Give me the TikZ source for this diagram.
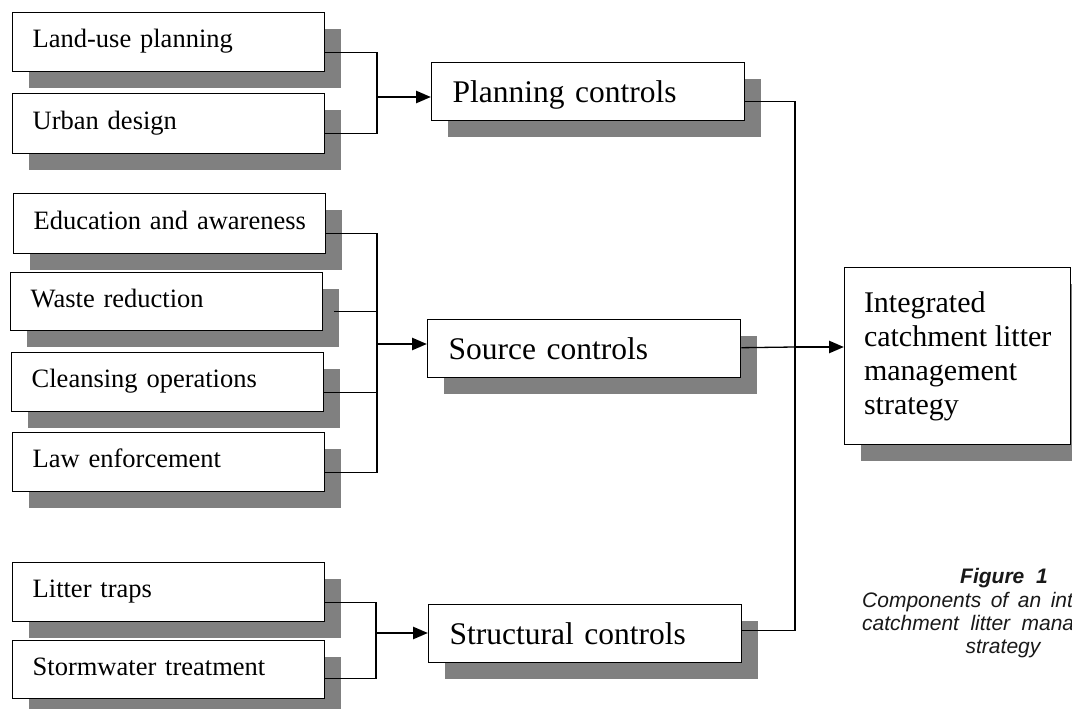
\documentclass[tikz,border=0pt]{standalone}
\usepackage{fontspec}
\setmainfont{Liberation Serif}
\newfontfamily\capfont{Liberation Sans}
\usetikzlibrary{arrows.meta,shadows}
\definecolor{shgray}{RGB}{128,128,128}
\begin{document}
\begin{tikzpicture}[x=1pt,y=-1pt,
  box/.style={draw=black, line width=1.4pt, fill=white, anchor=north west,
    inner ysep=0pt, align=left,
    drop shadow={shadow xshift=16pt, shadow yshift=-16pt, fill=shgray, opacity=1}},
  smallbox/.style={box, inner xsep=20pt, text width=272pt, minimum width=312pt,
    font=\fontsize{26.5}{30}\selectfont, text height=17pt, text depth=6pt},
  mainbox/.style={box, inner xsep=21pt, text width=271pt, minimum width=313pt,
    font=\fontsize{31.5}{36}\selectfont, text height=23pt, text depth=2pt},
  bigbox/.style={box, inner xsep=0pt, minimum width=226pt, minimum height=177pt,
    font=\fontsize{30}{34}\selectfont},
  conn/.style={line width=1.3pt},
  arr/.style={line width=2.6pt, -{Triangle[length=15pt,width=12pt]}},
  capt/.style={inner sep=0pt, text=black!90, font=\capfont\itshape\fontsize{21}{23}\selectfont}
]
\useasboundingbox (0,0) rectangle (1072,709);
\fill[white] (0,0) rectangle (1072,709);

% planning group
\node[smallbox, minimum height=59pt] (land) at (12,12) {Land-use planning};
\node[smallbox, minimum height=60pt] (urban) at (12,93) {Urban design};
\node[mainbox, minimum height=58pt] (plan) at (431,62) {Planning controls};

% source group
\node[smallbox, minimum height=60pt] (edu) at (13,193) {\mbox{Education and awareness}};
\node[smallbox, minimum height=58pt] (waste) at (10,272) {Waste reduction};
\node[smallbox, minimum height=59pt] (clean) at (11,352) {Cleansing operations};
\node[smallbox, minimum height=59pt] (law) at (12,432) {Law enforcement};
\node[mainbox, minimum height=58pt] (src) at (427,319) {Source controls};

% structural group
\node[smallbox, minimum height=59pt] (litter) at (12,562) {Litter traps};
\node[smallbox, minimum height=58pt] (storm) at (12,640) {Stormwater treatment};
\node[mainbox, minimum height=58pt] (struct) at (428,604) {Structural controls};

% integrated
\node[bigbox] (integ) at (844,267) {Integrated\\catchment litter\\management\\strategy};

% junctions
\coordinate (jp) at (377,97);
\coordinate (js) at (377,344);
\coordinate (jt) at (376,633);
\coordinate (ji) at (795,347);

% planning connectors
\draw[conn] ([yshift=-10pt]land.east) -| (jp) |- ([yshift=-10pt]urban.east);
\draw[arr] (jp) -- (plan.west |- jp);

% source connectors
\draw[conn] ([yshift=-10pt]edu.east) -| (js) |- ([yshift=-10pt]law.east);
\draw[conn] ([xshift=11pt,yshift=-10pt]waste.east) coordinate (w1) -- (w1 -| js);
\draw[conn] ([yshift=-10pt]clean.east) coordinate (c1) -- (c1 -| js);
\draw[arr] (js) -- (src.west |- js);

% structural connectors
\draw[conn] ([yshift=-10pt]litter.east) -| (jt) |- ([yshift=-9pt]storm.east);
\draw[arr] (jt) -- (struct.west |- jt);

% to integrated
\draw[conn] ([yshift=-10pt]plan.east) -| (ji) |- ([yshift=3pt]struct.east);
\draw[conn] ([yshift=1pt]src.east) -- (ji);
\draw[arr] (ji) -- (integ.west |- ji);

% caption
\node[capt, anchor=base, font=\capfont\bfseries\itshape\fontsize{21}{23}\selectfont] (cap1) at (1004,583) {Figure\ \ 1};
\node[capt, anchor=base west] (cap2) at (862,607) {\makebox[282pt][s]{Components of an integrated}};
\node[capt, anchor=base west] (cap3) at (862,630) {\makebox[282pt][s]{catchment litter management}};
\node[capt, anchor=base] (cap4) at (1003,653) {strategy};
\end{tikzpicture}
\end{document}
